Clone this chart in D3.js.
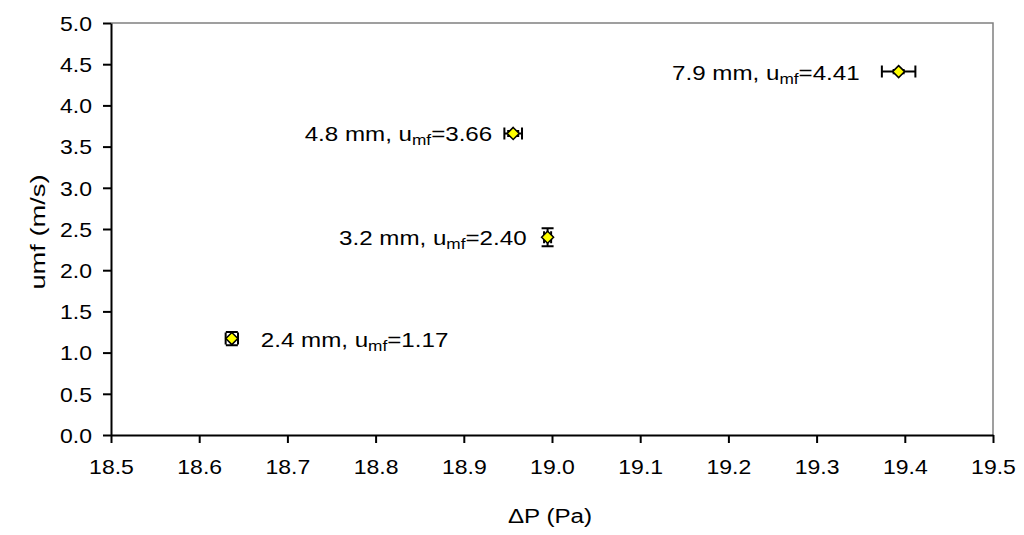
<!DOCTYPE html>
<html><head><meta charset="utf-8">
<script src="https://d3js.org/d3.v7.min.js"></script>
<style>body{margin:0;background:#fff}svg{display:block}text{font-family:Arial,"Liberation Sans",sans-serif;fill:#000}</style>
</head><body><svg id="c" width="1024" height="535"></svg>
<script>
const sizes = ["2.4 mm", "4.8 mm", "3.2 mm", "7.9 mm"];
const dP = [18.637, 18.956, 18.995, 19.393];
const umf = [1.17, 3.66, 2.40, 4.41];
const dPerr = [0.007, 0.010, 0.004, 0.019];
const umfErr = [0.08, 0.03, 0.11, 0.02];
const umfLabels = ["1.17", "3.66", "2.40", "4.41"];
const xTicks = [18.5,18.6,18.7,18.8,18.9,19.0,19.1,19.2,19.3,19.4,19.5];
const yTicks = [0,0.5,1,1.5,2,2.5,3,3.5,4,4.5,5];

// annotation layout (pixel offsets of labels from their points)
const labelDx = [29, -21, -21, -39];

const SX = 1.15; // horizontal text stretch
const svg = d3.select("#c");
const L=111,R=993,T=23,B=435;
const x = d3.scaleLinear().domain([18.5,19.5]).range([L,R]);
const y = d3.scaleLinear().domain([0,5]).range([B,T]);

svg.append("path").attr("d",`M${L},${T}H${R}V${B}`).attr("fill","none").attr("stroke","#808080").attr("stroke-width",1.5);

const xa = svg.append("g").attr("transform",`translate(0,${B})`)
  .call(d3.axisBottom(x).tickValues(xTicks).tickFormat(d3.format(".1f")).tickSize(8).tickSizeOuter(0));
const ya = svg.append("g").attr("transform",`translate(${L},0)`)
  .call(d3.axisLeft(y).tickValues(yTicks).tickFormat(d3.format(".1f")).tickSize(8).tickSizeOuter(0));
[xa,ya].forEach(a=>{a.select(".domain").attr("stroke","#000").attr("stroke-width",2);
  a.selectAll(".tick line").attr("stroke","#000").attr("stroke-width",2);
  a.selectAll("text").attr("font-size",20).attr("font-family","Arial, 'Liberation Sans', sans-serif").attr("fill","#000")
   .attr("transform",`scale(${SX},1)`);});
xa.selectAll("text").attr("y",25).attr("dy","0.71em");
ya.selectAll("text").attr("x",-19/SX).attr("dy","0.36em");

svg.append("text").attr("transform",`translate(550,523) scale(${SX},1)`).attr("text-anchor","middle").attr("font-size",21).text("ΔP (Pa)");
svg.append("text").attr("transform","translate(45,232) rotate(-90) scale(1.3,1)").attr("text-anchor","middle").attr("font-size",21).text("umf (m/s)");

const idx = d3.range(sizes.length);
const g = svg.append("g");
idx.forEach(i=>{
  const cx=x(dP[i]), cy=y(umf[i]);
  const x0=x(dP[i]-dPerr[i]), x1=x(dP[i]+dPerr[i]);
  const y0=y(umf[i]-umfErr[i]), y1=y(umf[i]+umfErr[i]);
  const c=6;
  g.append("path").attr("fill","none").attr("stroke","#000").attr("stroke-width",2)
    .attr("d",`M${x0},${cy}H${x1}M${x0},${cy-c}V${cy+c}M${x1},${cy-c}V${cy+c}M${cx},${y0}V${y1}M${cx-c},${y0}H${cx+c}M${cx-c},${y1}H${cx+c}`);
});
g.selectAll("path.m").data(idx).join("path").attr("class","m")
  .attr("transform",i=>`translate(${x(dP[i])},${y(umf[i])})`)
  .attr("d","M0,-6L6,0L0,6L-6,0Z").attr("fill","#ffff00").attr("stroke","#000").attr("stroke-width",1.5);

idx.forEach(i=>{
  const left = labelDx[i] < 0;
  const t = svg.append("text").attr("font-size",21)
    .attr("transform",`translate(${x(dP[i]) + labelDx[i]},${y(umf[i]) + 8}) scale(${SX},1)`)
    .attr("text-anchor", left ? "end" : "start");
  t.append("tspan").text(sizes[i]+", u");
  t.append("tspan").attr("font-size",15).attr("dy",4).text("mf");
  t.append("tspan").attr("dy",-4).text("="+umfLabels[i]);
});
</script></body></html>
